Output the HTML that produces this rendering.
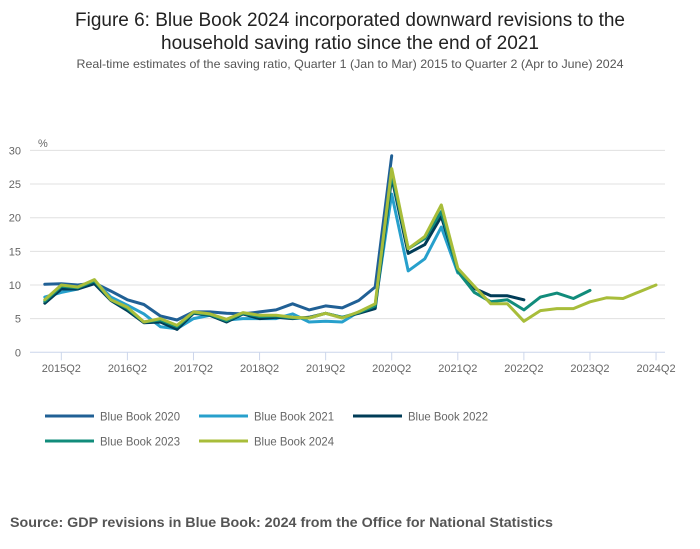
<!DOCTYPE html>
<html><head><meta charset="utf-8"><style>
html,body{margin:0;padding:0;background:#fff;}
svg{display:block;font-family:"Liberation Sans",sans-serif;}
</style></head><body>
<svg id="chart" width="700" height="549" viewBox="0 0 700 549">
<text x="350" y="26" text-anchor="middle" font-size="19" fill="#222" textLength="550" lengthAdjust="spacingAndGlyphs">Figure 6: Blue Book 2024 incorporated downward revisions to the</text>
<text x="350" y="49" text-anchor="middle" font-size="19" fill="#222" textLength="378" lengthAdjust="spacingAndGlyphs">household saving ratio since the end of 2021</text>
<text x="350" y="68" text-anchor="middle" font-size="12" fill="#555" textLength="547" lengthAdjust="spacingAndGlyphs">Real-time estimates of the saving ratio, Quarter 1 (Jan to Mar) 2015 to Quarter 2 (Apr to June) 2024</text>
<text x="38" y="147" font-size="11" fill="#666">%</text>
<g id="grid"></g>
<g id="xaxis"></g>
<g id="series"></g>
<g id="legend"></g>
<text x="10" y="527" font-size="14" font-weight="bold" fill="#555" textLength="543" lengthAdjust="spacingAndGlyphs">Source: GDP revisions in Blue Book: 2024 from the Office for National Statistics</text>
</svg>
<script>
const yTicks = [0, 5, 10, 15, 20, 25, 30];
const xTickLabels = ["2015Q2","2016Q2","2017Q2","2018Q2","2019Q2","2020Q2","2021Q2","2022Q2","2023Q2","2024Q2"];
const seriesNames = ["Blue Book 2020","Blue Book 2021","Blue Book 2022","Blue Book 2023","Blue Book 2024"];
const bb2020 = [10.1,10.2,10.0,10.3,9.1,7.8,7.1,5.4,4.8,6.0,6.0,5.8,5.7,6.0,6.3,7.2,6.3,6.9,6.6,7.7,9.7,29.2];
const bb2021 = [8.2,8.9,9.4,10.6,8.2,7.0,5.7,3.8,3.5,5.0,5.5,4.8,5.0,5.0,5.0,5.7,4.5,4.6,4.5,6.0,7.0,23.5,12.1,13.9,18.6,11.8];
const bb2022 = [7.3,9.4,9.4,10.2,7.7,6.2,4.4,4.5,3.4,5.8,5.5,4.5,5.7,5.0,5.2,5.0,5.2,5.8,5.2,5.8,6.5,26.0,14.7,16.0,20.2,12.2,9.5,8.4,8.4,7.8];
const bb2023 = [7.6,9.8,9.6,10.6,7.8,6.5,4.5,4.8,3.8,5.9,5.6,4.7,5.8,5.3,5.4,5.1,5.1,5.8,5.2,5.9,6.9,26.5,15.4,16.9,20.9,12.0,8.9,7.5,7.8,6.3,8.2,8.8,8.0,9.2];
const bb2024 = [7.8,10.0,9.7,10.8,7.8,6.7,4.5,5.0,4.0,6.0,5.7,4.9,5.9,5.5,5.5,5.2,5.1,5.8,5.1,6.0,7.2,27.3,15.4,17.2,21.9,12.5,9.8,7.2,7.2,4.6,6.2,6.5,6.5,7.5,8.1,8.0,9.0,10.0];
const colors = ["#206095","#27a0cc","#003c57","#118c7b","#a8bd3a"];
const NS = "http://www.w3.org/2000/svg";
const X0 = 44.8, QW = 16.52, Y0 = 352.3, YU = 6.73;
function xq(i){ return X0 + QW*i; }
function yv(v){ return Y0 - YU*v; }
function mk(tag, parent, attrs){ const e=document.createElementNS(NS,tag); for(const k in attrs) e.setAttribute(k,attrs[k]); parent.appendChild(e); return e; }
const grid=document.getElementById('grid');
yTicks.forEach(t=>{
  if(t>0){ const l=mk('line',grid,{x1:30,x2:665,y1:yv(t),y2:yv(t),stroke:'#e0e0e0','stroke-width':1});
  
   }
  const tx=mk('text',grid,{x:21,y:yv(t)+4,'text-anchor':'end','font-size':11,fill:'#666'});
  tx.textContent=t;
  
  
});
const xa=document.getElementById('xaxis');
const ax=mk('line',xa,{x1:30,x2:665,y1:Y0,y2:Y0,stroke:'#ccd6eb','stroke-width':1});


xTickLabels.forEach((lab,k)=>{
  const x=xq(1+4*k);
  const tk=mk('line',xa,{x1:x,x2:x,y1:Y0,y2:Y0+8,stroke:'#ccd6eb','stroke-width':1});
  
  
  const tx=mk('text',xa,{x:x,y:372,'text-anchor':'middle','font-size':11,fill:'#666'});
  tx.textContent=lab;
  
  
});
const sg=document.getElementById('series');
[bb2020,bb2021,bb2022,bb2023,bb2024].forEach((arr,s)=>{
  const d=arr.map((v,i)=>(i?'L':'M')+xq(i).toFixed(1)+','+yv(v).toFixed(1)).join(' ');
  const p=mk('path',sg,{d:d,fill:'none',stroke:colors[s],'stroke-width':3,'stroke-linejoin':'round','stroke-linecap':'round'});
  
  
});
const lg=document.getElementById('legend');
const lx=[45,199,353], ly=[416,441];
seriesNames.forEach((n,s)=>{
  const x=lx[s%3], y=ly[Math.floor(s/3)];
  const g=mk('g',lg,{});
  
  
  mk('line',g,{x1:x,x2:x+49,y1:y,y2:y,stroke:colors[s],'stroke-width':3});
  const t=mk('text',g,{x:x+55,y:y+4.5,'font-size':12,fill:'#666',textLength:80,lengthAdjust:'spacingAndGlyphs'});
  t.textContent=n;
});
</script>
</body></html>
